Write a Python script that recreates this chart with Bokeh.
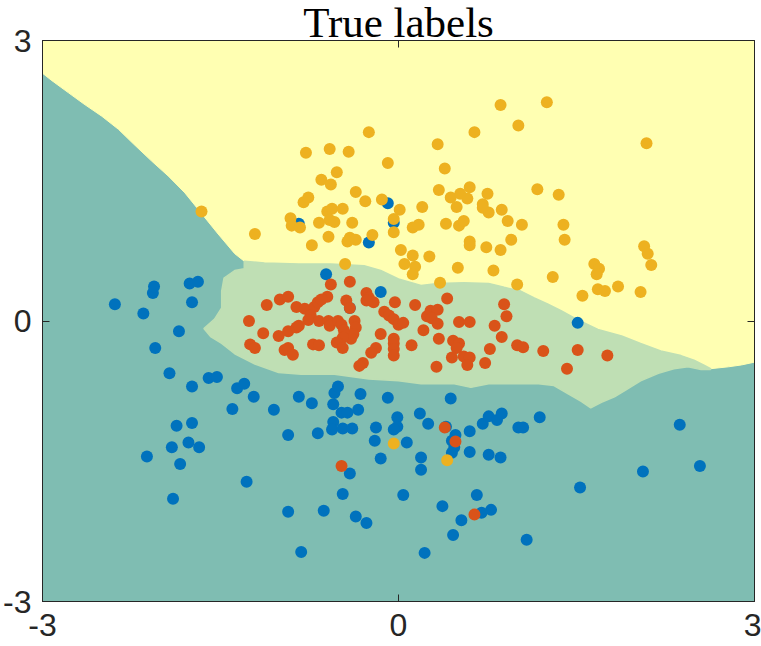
from bokeh.plotting import figure
from bokeh.models import Range1d, LinearAxis, FixedTicker
from bokeh.embed import file_html
from bokeh.resources import INLINE

# ---------------- data ----------------
TITLE = "True labels"
TICKS = [-3, 0, 3]
TICK_LABELS = {-3: "-3", 0: "0", 3: "3"}

# class 1 (blue)
blue_x = [-0.84, -0.09, -0.04, -0.25, -0.61, -0.15, -0.41, 1.51, -2.39, -2.15,
          -2.07, -2.06, -1.76, -1.69, -1.74, -1.85, -2.05, -1.93, -1.74, -1.60,
          -1.53, -1.36, -1.30, -1.22, -1.40, -1.05, -0.84, -0.73, -1.87, -1.74,
          -1.77, -1.91, -1.68, -2.12, -1.84, -1.28, -1.90, -0.93, -0.93, -0.68,
          -0.63, -0.82, -0.54, -0.51, -0.55, -0.32, -0.34, -0.48, -0.43, -0.55,
          -0.56, -0.47, -0.39, -0.19, -0.20, -0.15, -0.41, -0.47, -0.36, -0.27,
          -0.09, -0.01, -0.01, -0.04, 0.07, 0.18, 0.25, 0.44, 0.40, 0.48,
          0.45, 0.47, 0.45, 0.60, 0.60, 0.76, 0.86, 0.71, 0.76, 0.83,
          0.87, 1.01, 1.05, 1.19, 0.19, 0.19, 0.04, 0.37, 0.66, 0.70,
          0.78, 0.53, 0.46, 0.22, 1.08, 1.53, 2.06, 2.37, 2.54]
blue_y = [1.04, 1.26, 1.05, 0.84, 0.50, 0.31, 0.14, -0.02, 0.18, 0.08,
          0.30, 0.37, 0.40, 0.42, 0.20, -0.11, -0.29, -0.56, -0.70, -0.61,
          -0.60, -0.72, -0.67, -0.81, -0.94, -0.95, -0.81, -0.88, -1.12, -1.09,
          -1.30, -1.35, -1.35, -1.45, -1.53, -1.72, -1.90, -1.22, -2.04, -1.20,
          -2.03, -2.47, -0.77, -0.70, -0.89, -0.78, -0.95, -0.98, -0.98, -1.08,
          -1.16, -1.15, -1.15, -1.14, -1.28, -1.47, -1.63, -1.85, -2.09, -2.16,
          -0.82, -1.03, -1.13, -1.16, -1.30, -0.99, -1.10, -0.83, -1.13, -1.22,
          -1.28, -1.35, -1.41, -1.18, -1.40, -1.43, -1.46, -1.10, -1.02, -1.06,
          -0.99, -1.14, -1.14, -1.03, -1.46, -1.59, -1.86, -1.98, -1.86, -2.05,
          -2.02, -2.13, -2.29, -2.48, -2.34, -1.78, -1.61, -1.11, -1.55]

# class 2 (red)
red_x = [-0.57, -0.41, -0.60, -0.27, -0.25, -0.21, -0.27, -0.44, -0.41, -0.03,
         0.14, 0.27, 0.33, 0.24, 0.28, 0.33, -0.12, -0.08, -0.04, 0.00,
         0.04, 0.21, -0.15, -0.04, -0.04, -0.04, -0.04, 0.11, -0.19, -0.23,
         -0.30, -0.33, -1.11, -1.00, -0.93, -0.86, -0.79, -0.71, -0.68, -0.65,
         -0.74, -0.76, -0.67, -0.59, -0.58, -0.51, -0.48, -0.37, -0.36, -0.38,
         -0.40, -0.46, -0.47, -0.52, -0.47, -1.26, -1.14, -1.01, -0.93, -0.86,
         -0.84, -1.25, -1.21, -0.96, -0.93, -0.89, -0.72, -0.67, 0.41, 0.51,
         0.60, 0.89, 0.91, 0.81, 0.87, 0.34, 0.46, 0.51, 0.49, 0.77,
         1.00, 1.05, 1.22, 1.51, 1.76, 1.42, 0.32, 0.45, 0.55, 0.60,
         0.58, 0.73, -0.48, 0.39, 0.48, 0.64]
red_y = [0.39, 0.42, 0.26, 0.30, 0.25, 0.20, 0.22, 0.22, 0.14, 0.20,
         0.17, 0.11, 0.12, 0.05, 0.03, -0.03, 0.10, 0.06, 0.02, -0.04,
         -0.02, -0.10, -0.14, -0.19, -0.24, -0.30, -0.37, -0.26, -0.29, -0.34,
         -0.45, -0.48, 0.17, 0.23, 0.26, 0.15, 0.13, 0.15, 0.20, 0.23,
         0.06, 0.01, 0.00, 0.00, -0.05, 0.00, -0.04, 0.00, -0.07, -0.14,
         -0.19, -0.10, -0.18, -0.23, -0.29, 0.00, -0.13, -0.16, -0.11, -0.07,
         -0.05, -0.25, -0.29, -0.31, -0.29, -0.36, -0.25, -0.26, 0.24, -0.01,
         -0.01, 0.18, 0.05, -0.05, -0.17, -0.19, -0.21, -0.24, -0.29, -0.30,
         -0.26, -0.28, -0.32, -0.31, -0.37, -0.51, -0.49, -0.39, -0.38, -0.39,
         -0.47, -0.45, -1.55, -1.14, -1.29, -2.07]

# class 3 (yellow)
yellow_x = [-1.66, -1.21, -0.78, -0.58, -0.42, -0.25, -0.52, -0.65, -0.57, -0.36,
            -0.28, -0.14, -0.80, -0.76, -0.09, 0.33, 0.39, 0.34, 0.44, 0.01,
            0.20, -0.60, -0.56, -0.47, -0.91, -0.90, -0.83, -0.67, -0.58, -0.54,
            -0.39, -0.04, -0.04, -0.22, 0.12, 0.17, 0.40, -0.59, -0.41, -0.43,
            -0.36, -0.73, 0.02, 0.12, 0.26, -0.45, 0.86, 1.25, 1.01, 0.64,
            2.09, 0.60, 1.17, 1.35, 0.52, 0.58, 0.75, 0.71, 0.76, 0.49,
            0.87, 0.51, 0.55, 0.92, 1.04, 1.39, 1.40, 0.60, 0.60, 0.74,
            0.86, 0.95, 0.05, 0.14, 0.12, 0.50, 0.80, 0.35, 1.00, 1.30,
            2.07, 2.10, 2.13, 1.65, 1.69, 1.67, 1.85, 1.68, 1.74, 2.04,
            1.55, -0.04, 0.41, 0.71]
yellow_y = [1.17, 0.93, 1.80, 1.84, 1.81, 2.02, 1.59, 1.51, 1.46, 1.38,
            1.28, 1.30, 1.27, 1.32, 1.69, 1.89, 1.63, 1.40, 1.32, 1.19,
            1.22, 1.17, 1.20, 1.20, 1.10, 1.02, 1.00, 1.05, 1.08, 1.06,
            1.05, 1.09, 0.95, 0.92, 1.00, 1.03, 1.04, 0.90, 0.89, 0.85,
            0.87, 0.81, 0.76, 0.70, 0.69, 0.61, 2.31, 2.34, 2.09, 2.02,
            1.90, 1.43, 1.41, 1.35, 1.36, 1.31, 1.36, 1.25, 1.16, 1.22,
            1.19, 1.02, 1.07, 1.07, 1.03, 1.03, 0.87, 0.85, 0.81, 0.79,
            0.76, 0.87, 0.61, 0.58, 0.50, 0.57, 0.54, 0.41, 0.39, 0.47,
            0.80, 0.72, 0.60, 0.61, 0.56, 0.50, 0.37, 0.34, 0.32, 0.31,
            0.27, -1.31, -1.49, 1.21]

# decision region boundaries
# lower edge of the yellow (class 3) region, left to right
yb_x = [-3.0, -2.92, -2.78, -2.65, -2.50, -2.36, -2.23, -2.08, -1.94, -1.80,
        -1.66, -1.52, -1.38, -1.30, -1.13, -0.84, -0.57, -0.29, -0.15, 0.00,
        0.11, 0.19, 0.33, 0.55, 0.76, 0.89, 1.03, 1.14, 1.26, 1.37,
        1.50, 1.68, 1.88, 2.04, 2.21, 2.38, 2.49, 2.57, 2.63, 2.78,
        2.89, 3.0]
yb_y = [2.65, 2.57, 2.44, 2.32, 2.19, 2.05, 1.89, 1.71, 1.55, 1.37,
        1.15, 0.93, 0.72, 0.64, 0.62, 0.61, 0.61, 0.59, 0.54, 0.45,
        0.41, 0.38, 0.40, 0.41, 0.40, 0.36, 0.32, 0.25, 0.18, 0.11,
        0.02, -0.09, -0.16, -0.24, -0.32, -0.37, -0.42, -0.47, -0.51, -0.49,
        -0.47, -0.44]
# left and lower edge of the green (class 2) region
green_lo_x = [-1.30, -1.38, -1.47, -1.49, -1.49, -1.55, -1.64, -1.58, -1.49, -1.38,
              -1.21, -1.01, -0.82, -0.54, -0.25, 0.00, 0.19, 0.47, 0.61, 0.76,
              1.18, 1.31, 1.43, 1.54, 1.62, 1.71, 1.82, 1.90, 2.04, 2.19,
              2.32, 2.44, 2.55, 2.63]
green_lo_y = [0.56, 0.54, 0.46, 0.32, 0.14, 0.02, -0.08, -0.17, -0.24, -0.35,
              -0.46, -0.55, -0.57, -0.57, -0.62, -0.64, -0.67, -0.67, -0.71, -0.67,
              -0.67, -0.69, -0.78, -0.86, -0.93, -0.87, -0.81, -0.75, -0.64, -0.56,
              -0.51, -0.49, -0.52, -0.52]

# ---------------- style ----------------
TEAL = "#7FBDB2"
GREEN = "#BFDFB4"
YELLOW = "#FFFFB2"
C_BLUE = "#0072BD"
C_RED = "#D95319"
C_YEL = "#EDB120"
AXC = "#262626"

p = figure(width=761, height=646, output_backend="svg", toolbar_location=None,
           x_range=Range1d(-3, 3), y_range=Range1d(-3, 3),
           min_border_left=41, min_border_right=7, min_border_top=40,
           min_border_bottom=45)
p.background_fill_color = TEAL
p.border_fill_color = "white"
p.grid.visible = False
p.outline_line_color = AXC
p.outline_line_width = 1

p.title.text = TITLE
p.title.text_font = "Liberation Serif"
p.title.text_font_size = "43px"
p.title.text_font_style = "normal"
p.title.text_color = "black"
p.title.align = "center"
p.title.vertical_align = "bottom"
p.title.standoff = -10

# regions
yx = [-3.0, 3.0] + yb_x[::-1]
yy = [3.0, 3.0] + yb_y[::-1]
p.patch(yx, yy, fill_color=YELLOW, line_color=YELLOW, line_width=1)

x_lo, x_hi = green_lo_x[0], green_lo_x[-1]
top = [(x, y) for x, y in zip(yb_x, yb_y) if x_lo <= x <= x_hi]
gx = [t[0] for t in top] + green_lo_x[::-1]
gy = [t[1] for t in top] + green_lo_y[::-1]
p.patch(gx, gy, fill_color=GREEN, line_color=GREEN, line_width=1.5)

# points (class order: 1, 2, 3)
p.scatter(blue_x, blue_y, marker="circle", size=12, fill_color=C_BLUE, line_color=None)
p.scatter(red_x, red_y, marker="circle", size=12, fill_color=C_RED, line_color=None)
p.scatter(yellow_x, yellow_y, marker="circle", size=12, fill_color=C_YEL, line_color=None)

ticker = FixedTicker(ticks=TICKS, minor_ticks=[])

def style_axis(ax, labels, size):
    ax.ticker = ticker
    ax.major_tick_in = 7
    ax.major_tick_out = 0
    ax.minor_tick_line_color = None
    ax.axis_line_color = AXC
    ax.major_tick_line_color = AXC
    ax.major_label_text_font = "Liberation Sans"
    ax.major_label_text_font_size = size
    ax.major_label_text_color = AXC
    ax.major_label_overrides = labels

for ax in p.xaxis:
    style_axis(ax, TICK_LABELS, "32px")
    ax.major_label_standoff = 12
for ax in p.yaxis:
    style_axis(ax, TICK_LABELS, "32px")
    ax.major_label_standoff = 11

blank = {t: "" for t in TICKS}
top_ax = LinearAxis()
style_axis(top_ax, blank, "0px")
top_ax.major_label_standoff = 0
right_ax = LinearAxis()
style_axis(right_ax, blank, "0px")
right_ax.major_label_standoff = 0
p.add_layout(top_ax, "above")
p.add_layout(right_ax, "right")

open("out.html", "w").write(file_html(p, INLINE))
